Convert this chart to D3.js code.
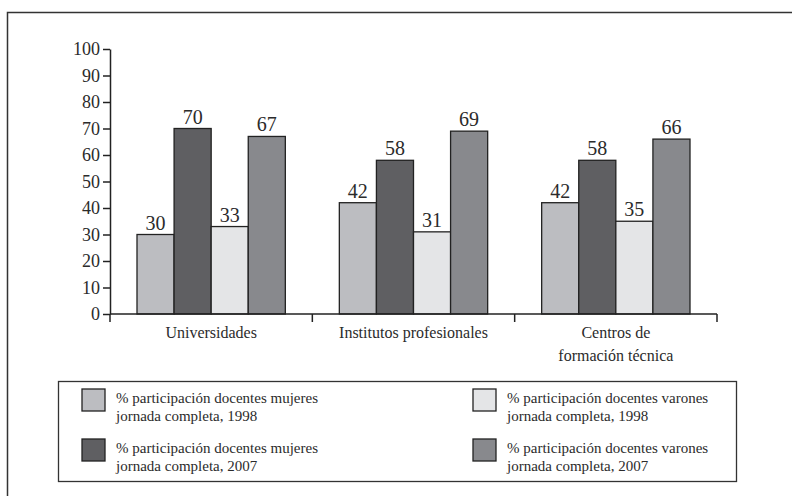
<!DOCTYPE html>
<html lang="es">
<head>
  <meta charset="UTF-8">
  <title>Participación docentes jornada completa</title>
  <style>
    body { margin: 0; background: #fff; }
    svg text { font-family: "Liberation Serif", "DejaVu Serif", serif; fill: #2b2b2b; }
  </style>
</head>
<body>
  <svg width="792" height="496"></svg>
  <script src="https://d3js.org/d3.v7.min.js"></script>
  <script>

  var categories = ['Universidades', 'Institutos profesionales', 'Centros de\nformación técnica'];
  var series = ['muj1998', 'muj2007', 'var1998', 'var2007'];
  var seriesLabels = [
    ['% participación docentes mujeres', 'jornada completa, 1998'],
    ['% participación docentes mujeres', 'jornada completa, 2007'],
    ['% participación docentes varones', 'jornada completa, 1998'],
    ['% participación docentes varones', 'jornada completa, 2007']
  ];
  var colors = ['#bcbdc1', '#5f5f62', '#e4e5e7', '#88898d'];

  // one array per category, in series order
  var universidades = [30, 70, 33, 67];
  var institutos = [42, 58, 31, 69];
  var centros = [42, 58, 35, 66];
  var values = [universidades, institutos, centros];

  var yTicks = [0, 10, 20, 30, 40, 50, 60, 70, 80, 90, 100];

  var svg = d3.select('svg');

  // outer frame, runs off the right and bottom edge
  svg.append('rect')
    .attr('x', 7.5).attr('y', 12.5)
    .attr('width', 800).attr('height', 500)
    .attr('fill', 'none').attr('stroke', '#333').attr('stroke-width', 1.5);

  var x0 = d3.scaleBand().domain(categories).range([110, 717]);
  var x1 = d3.scaleBand().domain(series).range([27, x0.bandwidth() - 27]);
  var y = d3.scaleLinear().domain([0, 100]).range([314, 49]);

  // y axis
  var yAxis = svg.append('g')
    .attr('transform', 'translate(110,0)')
    .call(d3.axisLeft(y).tickValues(yTicks).tickSize(7).tickSizeOuter(0).tickPadding(3));
  yAxis.selectAll('path, line').attr('stroke', '#222').attr('stroke-width', 1.5);
  yAxis.selectAll('text').attr('font-size', 18).attr('fill', '#2b2b2b')
    .attr('font-family', '"Liberation Serif", serif');

  // bars
  var groups = svg.selectAll('.grp')
    .data(categories)
    .enter().append('g')
    .attr('class', 'grp')
    .attr('transform', function(d) { return 'translate(' + x0(d) + ',0)'; });

  groups.selectAll('rect')
    .data(function(d, i) { return values[i].map(function(v, j) { return { s: series[j], v: v, c: colors[j] }; }); })
    .enter().append('rect')
    .attr('x', function(d) { return x1(d.s); })
    .attr('y', function(d) { return y(d.v); })
    .attr('width', x1.bandwidth())
    .attr('height', function(d) { return y(0) - y(d.v); })
    .attr('fill', function(d) { return d.c; })
    .attr('stroke', '#222').attr('stroke-width', 1.3);

  groups.selectAll('text.val')
    .data(function(d, i) { return values[i].map(function(v, j) { return { s: series[j], v: v }; }); })
    .enter().append('text')
    .attr('class', 'val')
    .attr('x', function(d) { return x1(d.s) + x1.bandwidth() / 2; })
    .attr('y', function(d) { return y(d.v) - 5; })
    .attr('text-anchor', 'middle')
    .attr('font-size', 20)
    .text(function(d) { return d.v; });

  // x axis: baseline with ticks at group boundaries
  var bounds = categories.map(function(c) { return x0(c); }).concat([x0.range()[1]]);
  var xg = svg.append('g');
  xg.append('line')
    .attr('x1', x0.range()[0]).attr('x2', x0.range()[1])
    .attr('y1', y(0)).attr('y2', y(0))
    .attr('stroke', '#222').attr('stroke-width', 1.5);
  xg.selectAll('line.tick')
    .data(bounds)
    .enter().append('line')
    .attr('class', 'tick')
    .attr('x1', function(d) { return d; }).attr('x2', function(d) { return d; })
    .attr('y1', y(0)).attr('y2', y(0) + 8)
    .attr('stroke', '#222').attr('stroke-width', 1.5);

  xg.selectAll('text.cat')
    .data(categories)
    .enter().append('text')
    .attr('class', 'cat')
    .attr('text-anchor', 'middle')
    .attr('font-size', 16)
    .attr('transform', function(d) { return 'translate(' + (x0(d) + x0.bandwidth() / 2) + ',' + (y(0) + 24) + ')'; })
    .selectAll('tspan')
    .data(function(d) { return d.split('\n'); })
    .enter().append('tspan')
    .attr('x', 0)
    .attr('dy', function(d, i) { return i ? 23 : 0; })
    .text(function(d) { return d; });

  // legend
  var legend = svg.append('g');
  legend.append('rect')
    .attr('x', 58.5).attr('y', 381.5)
    .attr('width', 678).attr('height', 100)
    .attr('fill', '#fff').attr('stroke', '#333').attr('stroke-width', 1.3);

  var legendPos = [[82, 389], [82, 439], [473, 389], [473, 439]];

  var items = legend.selectAll('.item')
    .data(series)
    .enter().append('g')
    .attr('class', 'item')
    .attr('transform', function(d, i) { return 'translate(' + legendPos[i][0] + ',' + legendPos[i][1] + ')'; });

  items.append('rect')
    .attr('width', 23).attr('height', 22)
    .attr('fill', function(d, i) { return colors[i]; })
    .attr('stroke', '#222').attr('stroke-width', 1.3);

  items.append('text')
    .attr('font-size', 15)
    .selectAll('tspan')
    .data(function(d, i) { return seriesLabels[i]; })
    .enter().append('tspan')
    .attr('x', 34)
    .attr('y', function(d, i) { return 14 + i * 18; })
    .text(function(d) { return d; });

  </script>
</body>
</html>
